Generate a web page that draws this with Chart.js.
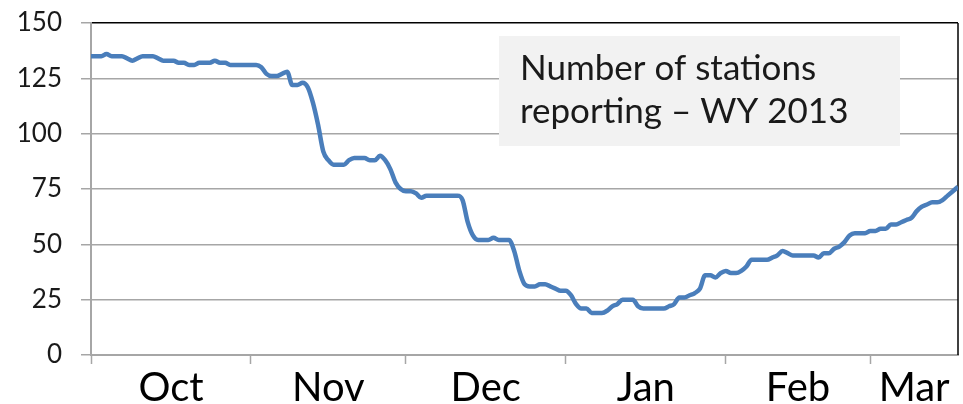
<!DOCTYPE html>
<html>
<head>
<meta charset="utf-8">
<script src="https://cdn.jsdelivr.net/npm/chart.js@4.4.0/dist/chart.umd.min.js"></script>
<style>
html,body{margin:0;padding:0;background:#fff;}
canvas{display:block;}
</style>
</head>
<body>
<canvas id="c" width="963" height="404"></canvas>
<script>
// Daily number of stations reporting, starting Oct 1 (day 0)
const stationCounts = [
135,135,135,136,135,135,135,134,133,134,135,135,135,134,133,133,133,132,132,131,
131,132,132,132,133,132,132,131,131,131,131,131,131,130,127,126,126,127,128,122,
122,123,121,114,104,92,88,86,86,86,88,89,89,89,88,88,90,88,84,78,
75,74,74,73,71,72,72,72,72,72,72,72,70,60,54,52,52,52,53,52,
52,52,47,38,32,31,31,32,32,31,30,29,29,27,23,21,21,19,19,19,
20,22,23,25,25,25,22,21,21,21,21,21,22,23,26,26,27,28,30,36,
36,35,37,38,37,37,38,40,43,43,43,43,44,45,47,46,45,45,45,45,
45,44,46,46,48,49,51,54,55,55,55,56,56,57,57,59,59,60,61,62,
65,67,68,69,69,70,72,74,76
];
const monthLabels = ['Oct','Nov','Dec','Jan','Feb','Mar'];
const monthStartDays = [0,31,61,92,123,151,168];
const yTicks = [0,25,50,75,100,125,150];
const noteLines = ['Number of stations','reporting \u2013 WY 2013'];

const points = stationCounts.map((v,i)=>({x:i,y:v}));
const monthMids = monthLabels.map((m,i)=>(monthStartDays[i]+monthStartDays[i+1])/2);
const boundarySet = new Set(monthStartDays.slice(0,6));

const frame = {
  id:'frame',
  beforeDatasetsDraw(chart){
    const ctx = chart.ctx, a = chart.chartArea;
    ctx.save();
    ctx.fillStyle = '#f2f2f2';
    ctx.fillRect(499, 36, 401, 110);
    ctx.fillStyle = '#1a1a1a';
    ctx.font = '35px Lato';
    ctx.textBaseline = 'alphabetic';
    ctx.fillText(noteLines[0], 520, 80);
    ctx.fillText(noteLines[1], 520, 123);
    ctx.strokeStyle = '#000';
    ctx.lineWidth = 1.5;
    ctx.beginPath();
    ctx.moveTo(a.right, a.top);
    ctx.lineTo(a.right, a.bottom);
    ctx.stroke();
    ctx.restore();
  }
};

new Chart(document.getElementById('c'), {
  type:'line',
  data:{datasets:[{
    data:points,
    borderColor:'#4a7ebb',
    borderWidth:4.5,
    pointRadius:0,
    fill:false,
    cubicInterpolationMode:'monotone'
  }]},
  options:{
    responsive:false,
    animation:false,
    devicePixelRatio:1,
    layout:{padding:{left:0,right:5,top:23,bottom:0}},
    plugins:{legend:{display:false},tooltip:{enabled:false}},
    scales:{
      x:{
        type:'linear',
        min:0,max:168,
        afterBuildTicks(scale){
          const t = [];
          monthStartDays.slice(0,6).forEach((d,i)=>{t.push({value:d}); t.push({value:monthMids[i]});});
          scale.ticks = t;
        },
        afterFit(scale){ scale.height = 49; scale.paddingLeft = 0; scale.paddingRight = 0; },
        ticks:{
          autoSkip:false, maxRotation:0, padding:0,
          color:'#000',
          font:{family:'Lato',size:40},
          callback(v){ const i = monthMids.indexOf(v); return i>=0 ? monthLabels[i] : ''; }
        },
        grid:{
          drawOnChartArea:false,
          tickLength:9,
          tickWidth:1.5,
          tickColor:(c)=> (c.tick && boundarySet.has(c.tick.value)) ? '#a6a6a6' : 'rgba(0,0,0,0)'
        },
        border:{color:'#a6a6a6',width:2}
      },
      y:{
        min:0,max:150,
        afterBuildTicks(scale){ scale.ticks = yTicks.map(v=>({value:v})); },
        afterFit(scale){ scale.width = 91; scale.paddingTop = 0; scale.paddingBottom = 0; },
        ticks:{
          padding:19,
          color:'#1a1a1a',
          font:{family:'Lato',size:26}
        },
        grid:{
          tickLength:10,
          lineWidth:1.5,
          color:(c)=> (c.tick && c.tick.value===150) ? '#000' : '#a6a6a6',
          tickColor:'#a6a6a6'
        },
        border:{color:'#a6a6a6',width:2}
      }
    }
  },
  plugins:[frame]
});
</script>
</body>
</html>
